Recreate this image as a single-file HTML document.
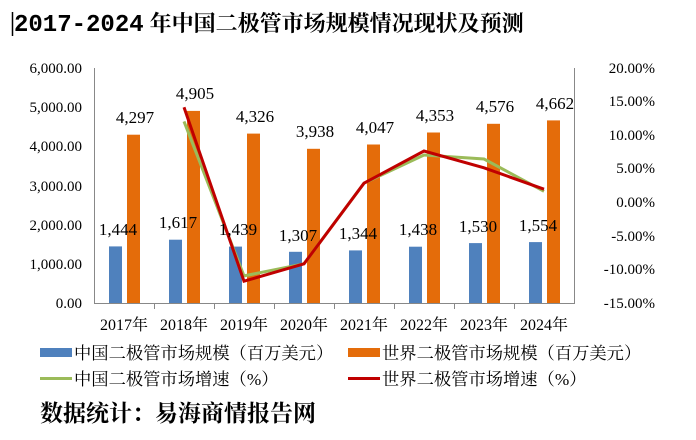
<!DOCTYPE html>
<html><head><meta charset="utf-8"><style>
body{margin:0;background:#fff;width:696px;height:440px;overflow:hidden}
svg{display:block}
.s{font-family:"Liberation Serif","Noto Serif CJK SC",serif}
</style></head><body>
<svg width="696" height="440" xmlns="http://www.w3.org/2000/svg">
<line x1="12.5" y1="12" x2="12.5" y2="36" stroke="#000" stroke-width="1.5"/>
<text x="14" y="31" font-size="22"><tspan font-family="Liberation Mono,monospace" font-size="24" font-weight="bold">2017-2024</tspan><tspan font-family="Noto Serif CJK SC,serif" font-weight="bold" dx="6">年中国二极管市场规模情况现状及预测</tspan></text>
<g class="s" font-size="15" text-anchor="end">
<text x="82" y="73">6,000.00</text><text x="82" y="112">5,000.00</text><text x="82" y="151">4,000.00</text><text x="82" y="191">3,000.00</text><text x="82" y="230">2,000.00</text><text x="82" y="269">1,000.00</text><text x="82" y="308">0.00</text>
</g>
<g class="s" font-size="15" text-anchor="end">
<text x="655" y="73">20.00%</text><text x="655" y="106">15.00%</text><text x="655" y="140">10.00%</text><text x="655" y="173">5.00%</text><text x="655" y="207">0.00%</text><text x="655" y="241">-5.00%</text><text x="655" y="274">-10.00%</text><text x="655" y="308">-15.00%</text>
</g>
<line x1="94.5" y1="68" x2="94.5" y2="303" stroke="#888"/>
<line x1="574.5" y1="68" x2="574.5" y2="303" stroke="#888"/>
<line x1="94" y1="303.5" x2="575" y2="303.5" stroke="#888"/>
<g stroke="#888"><line x1="154.5" y1="303" x2="154.5" y2="309"/><line x1="214.5" y1="303" x2="214.5" y2="309"/><line x1="274.5" y1="303" x2="274.5" y2="309"/><line x1="334.5" y1="303" x2="334.5" y2="309"/><line x1="394.5" y1="303" x2="394.5" y2="309"/><line x1="454.5" y1="303" x2="454.5" y2="309"/><line x1="514.5" y1="303" x2="514.5" y2="309"/></g>
<g fill="#4f81bd">
<rect x="109" y="246.4" width="13" height="56.6"/><rect x="169" y="239.7" width="13" height="63.3"/><rect x="229" y="246.6" width="13" height="56.4"/><rect x="289" y="251.8" width="13" height="51.2"/><rect x="349" y="250.4" width="13" height="52.6"/><rect x="409" y="246.7" width="13" height="56.3"/><rect x="469" y="243.1" width="13" height="59.9"/><rect x="529" y="242.1" width="13" height="60.9"/>
</g>
<g fill="#e46c0a">
<rect x="127" y="134.7" width="13" height="168.3"/><rect x="187" y="110.9" width="13" height="192.1"/><rect x="247" y="133.6" width="13" height="169.4"/><rect x="307" y="148.8" width="13" height="154.2"/><rect x="367" y="144.5" width="13" height="158.5"/><rect x="427" y="132.5" width="13" height="170.5"/><rect x="487" y="123.8" width="13" height="179.2"/><rect x="547" y="120.4" width="13" height="182.6"/>
</g>
<polyline fill="none" stroke="#9bbb59" stroke-width="3" points="184,121.4 244,275.9 304,263.8 364,183.2 424,155 484,159 544,191.3"/>
<polyline fill="none" stroke="#c00000" stroke-width="3" points="184,107.3 244,281.2 304,263.8 364,183.2 424,151 484,167.8 544,189.2"/>
<g class="s" font-size="17" text-anchor="middle">
<text x="118" y="235">1,444</text><text x="178" y="228">1,617</text><text x="238" y="235">1,439</text><text x="298" y="241">1,307</text><text x="358" y="239">1,344</text><text x="418" y="235">1,438</text><text x="478" y="232">1,530</text><text x="538" y="231">1,554</text>
<text x="135" y="123">4,297</text><text x="195" y="99">4,905</text><text x="255" y="122">4,326</text><text x="315" y="137">3,938</text><text x="375" y="133">4,047</text><text x="435" y="121">4,353</text><text x="495" y="112">4,576</text><text x="555" y="109">4,662</text>
</g>
<g class="s" font-size="16" text-anchor="middle">
<text x="124" y="330">2017年</text><text x="184" y="330">2018年</text><text x="244" y="330">2019年</text><text x="304" y="330">2020年</text><text x="364" y="330">2021年</text><text x="424" y="330">2022年</text><text x="484" y="330">2023年</text><text x="544" y="330">2024年</text>
</g>
<rect x="40" y="348" width="32" height="9" fill="#4f81bd"/>
<rect x="348" y="348" width="32" height="9" fill="#e46c0a"/>
<line x1="40" y1="378.5" x2="72" y2="378.5" stroke="#9bbb59" stroke-width="3"/>
<line x1="348" y1="378.5" x2="380" y2="378.5" stroke="#c00000" stroke-width="3"/>
<g class="s" font-size="17.3">
<text x="74" y="359">中国二极管市场规模（百万美元）</text>
<text x="382" y="359">世界二极管市场规模（百万美元）</text>
<text x="74" y="385">中国二极管市场增速（%）</text>
<text x="382" y="385">世界二极管市场增速（%）</text>
</g>
<text x="40" y="421" class="s" font-size="23" font-weight="bold">数据统计：易海商情报告网</text>
</svg>
</body></html>
